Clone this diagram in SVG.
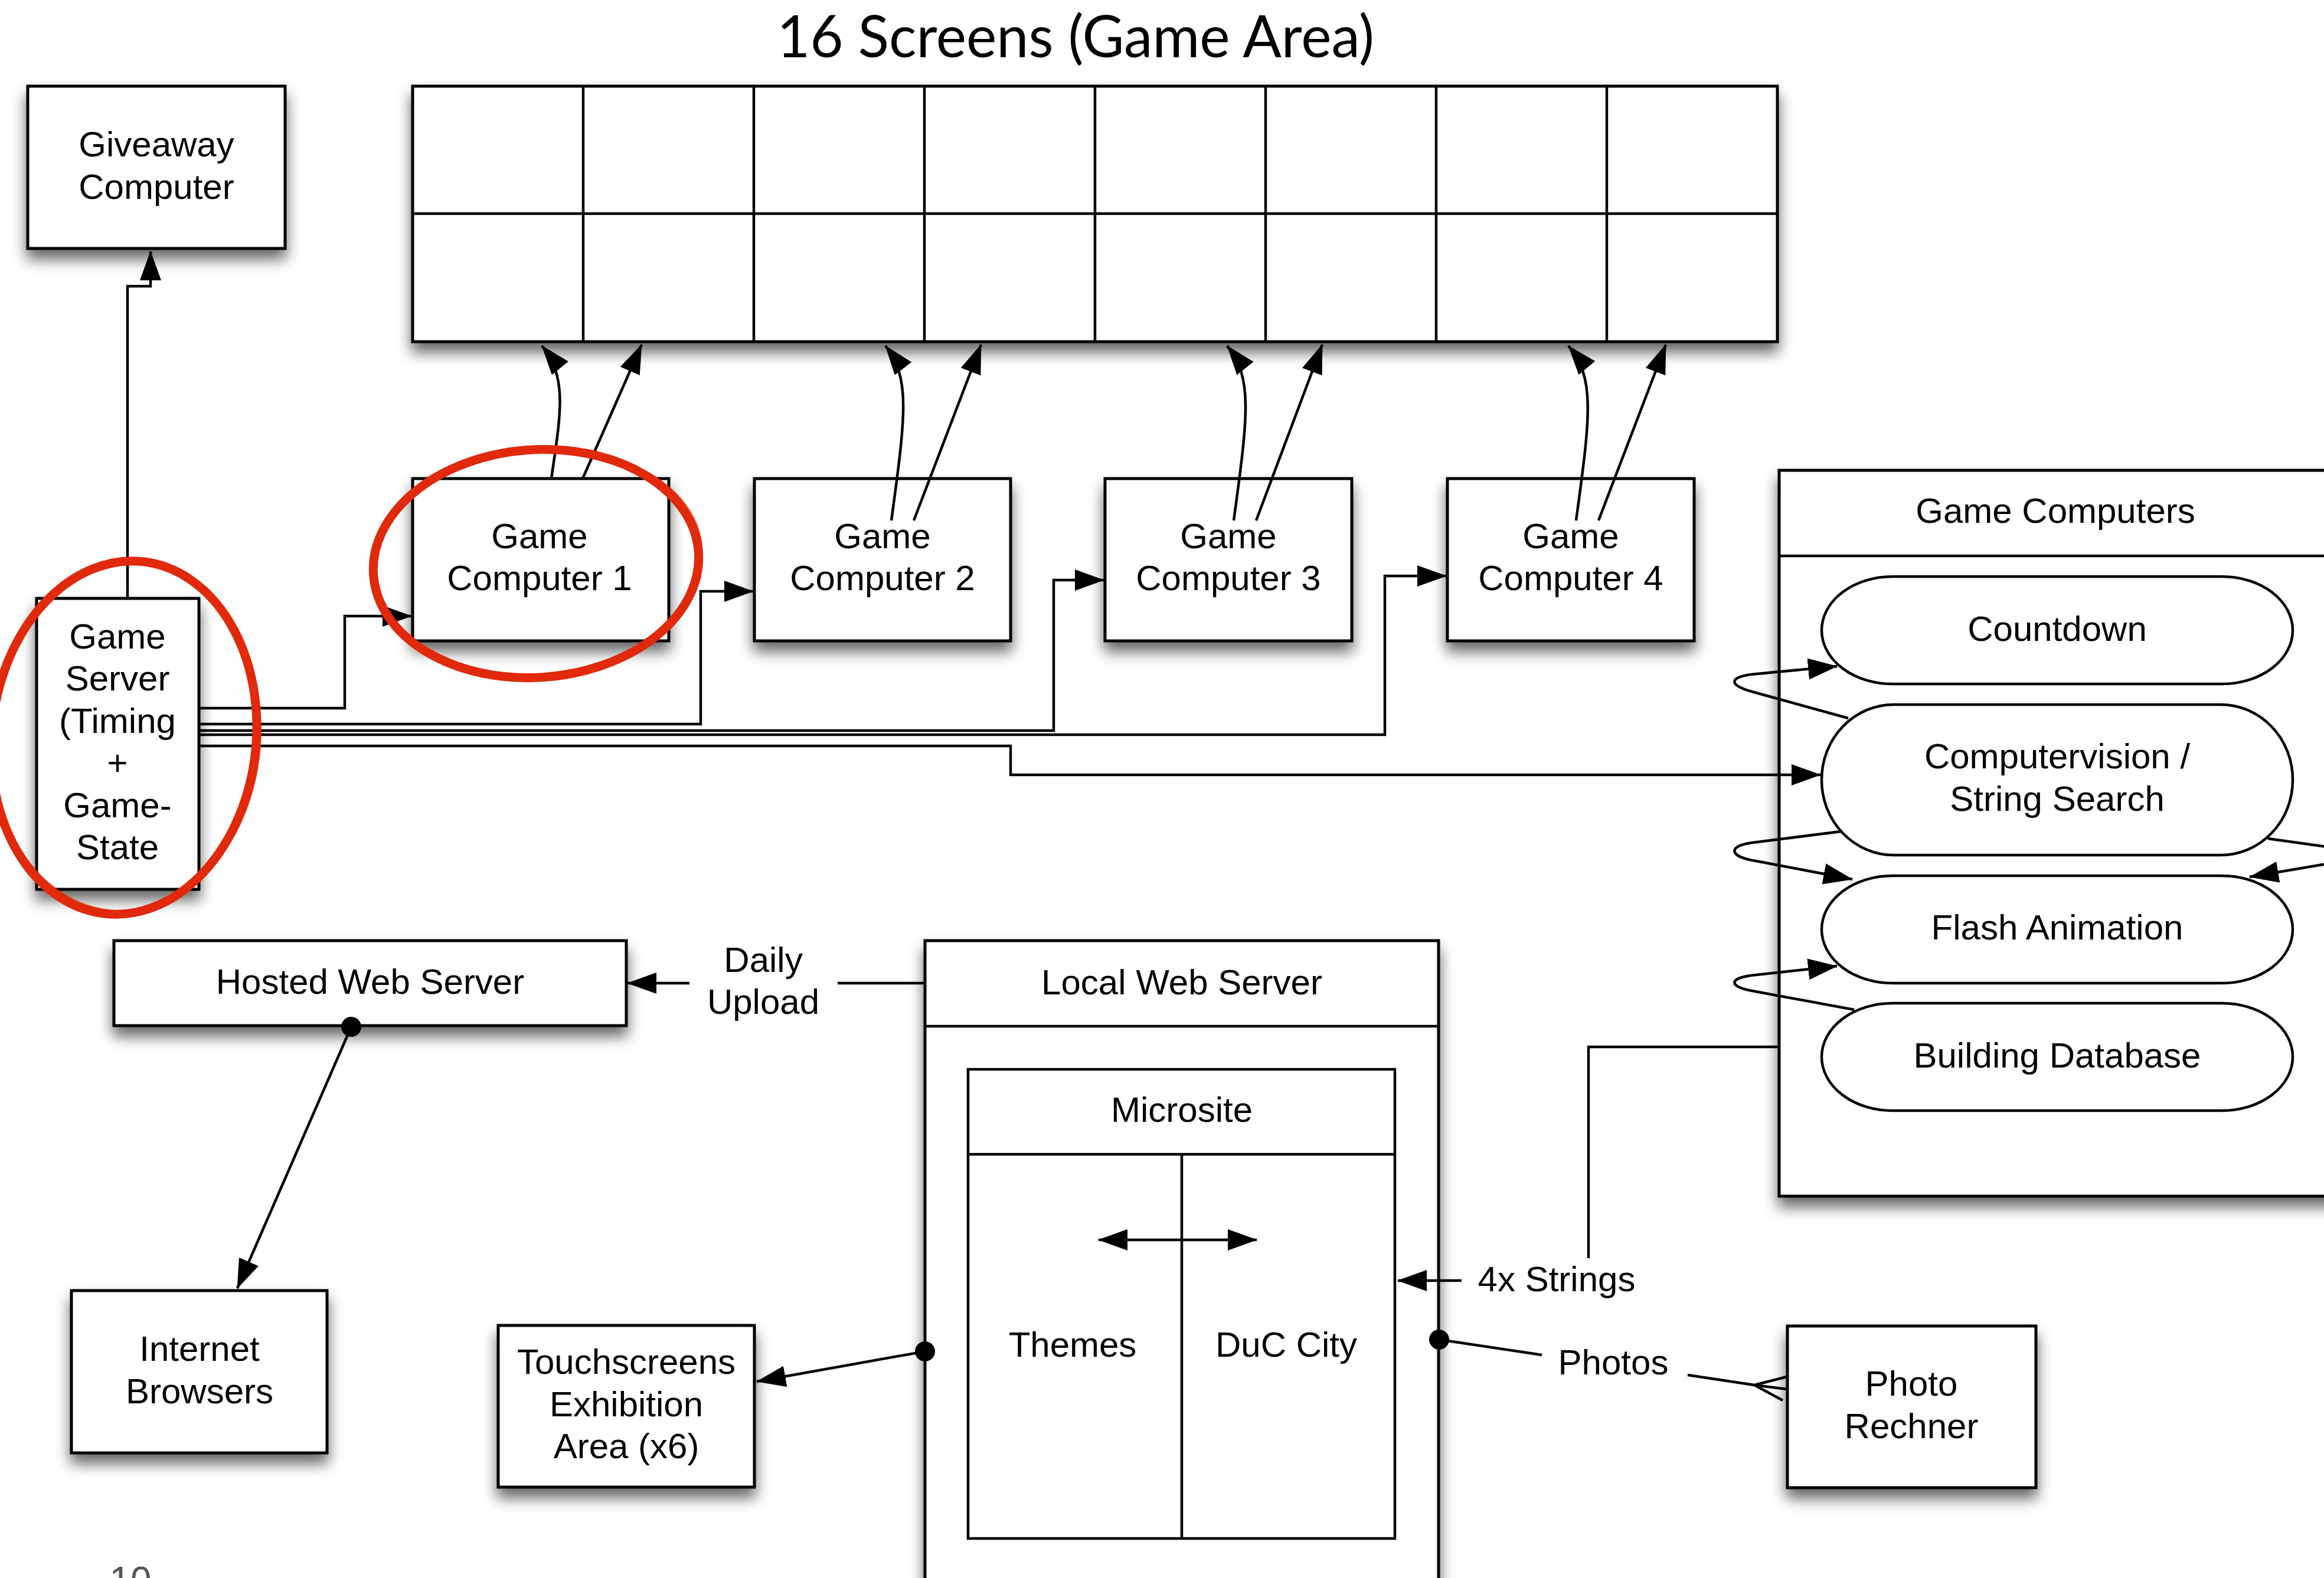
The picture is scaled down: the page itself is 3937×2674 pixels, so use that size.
<svg xmlns="http://www.w3.org/2000/svg" width="3937" height="2674" viewBox="0 0 3937 2674">
<style>
.box{fill:#fff;stroke:#000;stroke-width:5}
.nb{fill:#fff;stroke:#000;stroke-width:4.5}
.ln{fill:none;stroke:#000;stroke-width:4.5}
.arr{marker-end:url(#ah)}
.t{font-family:"Liberation Sans",Arial,Helvetica,sans-serif;font-size:60px;text-anchor:middle;fill:#000}
.red{fill:none;stroke:#e1290b;stroke-linecap:round}
</style>
<defs>
<filter id="sh" x="-20%" y="-20%" width="140%" height="150%">
<feDropShadow dx="0" dy="16" stdDeviation="12" flood-color="#000" flood-opacity="0.6"/>
</filter>
<marker id="ah" markerUnits="userSpaceOnUse" markerWidth="52" markerHeight="38" refX="49" refY="18" orient="auto"><path d="M0,0 L50,18 L0,36 z" fill="#000"/></marker>
<marker id="ah2" markerUnits="userSpaceOnUse" markerWidth="52" markerHeight="38" refX="49" refY="18" orient="auto-start-reverse"><path d="M0,0 L50,18 L0,36 z" fill="#000"/></marker>
<marker id="dot" markerUnits="userSpaceOnUse" markerWidth="40" markerHeight="40" refX="20" refY="20" orient="auto"><circle cx="20" cy="20" r="17" fill="#000"/></marker>
</defs>
<rect width="3937" height="2674" fill="#fff"/>

<text x="1822" y="97" style="font-family:Lato,'Open Sans',sans-serif;font-size:98px;text-anchor:middle" textLength="1012" lengthAdjust="spacingAndGlyphs">16 Screens (Game Area)</text>

<g id="screens">
<rect class="box" x="699" y="146" width="2312" height="433" filter="url(#sh)"/>
<path class="ln" d="M699,362H3011M988,146V579M1277,146V579M1566,146V579M1855,146V579M2144,146V579M2433,146V579M2722,146V579"/>
</g>

<g id="giveaway">
<rect class="box" x="47" y="146" width="436" height="275" filter="url(#sh)"/>
<text class="t" x="265" y="265">Giveaway</text>
<text class="t" x="265" y="337">Computer</text>
</g>

<g id="game-server">
<rect class="box" x="62" y="1014" width="275" height="493" filter="url(#sh)"/>
<text class="t" x="199" y="1099">Game</text>
<text class="t" x="199" y="1170">Server</text>
<text class="t" x="199" y="1242">(Timing</text>
<text class="t" x="199" y="1313">+</text>
<text class="t" x="199" y="1385">Game-</text>
<text class="t" x="199" y="1456">State</text>
</g>

<g id="gc1">
<rect class="box" x="699" y="811" width="434" height="275" filter="url(#sh)"/>
<text class="t" x="914" y="929">Game</text>
<text class="t" x="914" y="1000">Computer 1</text>
</g>
<g id="gc2">
<rect class="box" x="1278" y="811" width="434" height="275" filter="url(#sh)"/>
<text class="t" x="1495" y="929">Game</text>
<text class="t" x="1495" y="1000">Computer 2</text>
</g>
<g id="gc3">
<rect class="box" x="1872" y="811" width="418" height="275" filter="url(#sh)"/>
<text class="t" x="2081" y="929">Game</text>
<text class="t" x="2081" y="1000">Computer 3</text>
</g>
<g id="gc4">
<rect class="box" x="2452" y="811" width="418" height="275" filter="url(#sh)"/>
<text class="t" x="2661" y="929">Game</text>
<text class="t" x="2661" y="1000">Computer 4</text>
</g>

<g id="game-computers">
<rect class="box" x="3014" y="797" width="960" height="1230" filter="url(#sh)"/>
<path class="ln" d="M3014,942H3937"/>
<text class="t" x="3482" y="886">Game Computers</text>
</g>
<g id="countdown">
<rect class="nb" x="3086" y="977" width="798" height="182" rx="120" ry="91"/>
<text class="t" x="3485" y="1086">Countdown</text>
</g>
<g id="computervision">
<rect class="nb" x="3086" y="1194" width="798" height="255" rx="122" ry="127"/>
<text class="t" x="3485" y="1302">Computervision /</text>
<text class="t" x="3485" y="1374">String Search</text>
</g>
<g id="flash">
<rect class="nb" x="3086" y="1484" width="798" height="182" rx="120" ry="91"/>
<text class="t" x="3485" y="1592">Flash Animation</text>
</g>
<g id="building-db">
<rect class="nb" x="3086" y="1700" width="798" height="182" rx="120" ry="91"/>
<text class="t" x="3485" y="1809">Building Database</text>
</g>

<g id="hosted-web-server">
<rect class="box" x="193" y="1594" width="868" height="144" filter="url(#sh)"/>
<text class="t" x="627" y="1684">Hosted Web Server</text>
</g>
<g id="internet-browsers">
<rect class="box" x="121" y="2187" width="433" height="275" filter="url(#sh)"/>
<text class="t" x="338" y="2306">Internet</text>
<text class="t" x="338" y="2378">Browsers</text>
</g>
<g id="touchscreens">
<rect class="box" x="844" y="2246" width="434" height="274" filter="url(#sh)"/>
<text class="t" x="1061" y="2328">Touchscreens</text>
<text class="t" x="1061" y="2400">Exhibition</text>
<text class="t" x="1061" y="2471">Area (x6)</text>
</g>
<g id="local-web-server">
<rect class="box" x="1567" y="1594" width="870" height="1120" filter="url(#sh)"/>
<path class="ln" d="M1567,1739H2437"/>
<text class="t" x="2002" y="1685">Local Web Server</text>
</g>
<g id="microsite">
<rect class="nb" x="1640" y="1812" width="723" height="795"/>
<path class="ln" d="M1640,1956H2363M2002,1956V2607"/>
<text class="t" x="2002" y="1901">Microsite</text>
<text class="t" x="1817" y="2299">Themes</text>
<text class="t" x="2179" y="2299">DuC City</text>
</g>
<g id="photo-rechner">
<rect class="box" x="3028" y="2247" width="421" height="274" filter="url(#sh)"/>
<text class="t" x="3238" y="2365">Photo</text>
<text class="t" x="3238" y="2437">Rechner</text>
</g>

<g id="connectors">
<path class="ln arr" d="M216,1014V485H255V426"/>
<path class="ln arr" d="M337,1200H584V1044H697"/>
<path class="ln arr" d="M337,1227H1187V1002H1276"/>
<path class="ln arr" d="M337,1238H1785V983H1870"/>
<path class="ln arr" d="M337,1245H2346V976H2450"/>
<path class="ln arr" d="M337,1264H1712V1313H3084"/>
<path class="ln arr" d="M934,811C950,700 962,640 918,586"/>
<path class="ln arr" d="M987,811L1087,584"/>
<path class="ln arr" d="M1510,882C1535,700 1542,640 1500,586"/>
<path class="ln arr" d="M1548,882L1662,584"/>
<path class="ln arr" d="M2090,882C2115,700 2122,640 2079,586"/>
<path class="ln arr" d="M2128,882L2240,584"/>
<path class="ln arr" d="M2670,882C2695,700 2702,640 2657,586"/>
<path class="ln arr" d="M2708,882L2822,584"/>
<path class="ln arr" d="M3131,1217L2968,1172C2925,1160 2930,1146 2975,1142L3112,1129"/>
<path class="ln arr" d="M3118,1409L2968,1428C2925,1434 2930,1452 2975,1459L3138,1490"/>
<path class="ln arr" d="M3141,1711L2968,1679C2925,1671 2930,1656 2975,1652L3112,1637"/>
<path class="ln arr" d="M3842,1421L3935,1434C3985,1442 3980,1458 3935,1465L3811,1486"/>
<path class="ln arr" d="M595,1740L402,2183" style="marker-start:url(#dot)"/>
<path class="ln" d="M1567,1666H1419"/>
<path class="ln arr" d="M1168,1666H1063"/>
<path class="ln arr" d="M1567,2290L1282,2341" style="marker-start:url(#dot)"/>
<path class="ln" d="M3014,1774H2691V2132"/>
<path class="ln arr" d="M2476,2170H2368"/>
<path class="ln" d="M2438,2270L2612,2296" style="marker-start:url(#dot)"/>
<path class="ln" d="M2859,2330L2972,2347L3027,2354M3027,2333L2972,2347L3020,2373"/>
<path class="ln" d="M1861,2101H2129" style="marker-start:url(#ah2);marker-end:url(#ah2)"/>
<text class="t" x="1293" y="1647">Daily</text>
<text class="t" x="1293" y="1718">Upload</text>
<text class="t" x="2637" y="2188">4x Strings</text>
<text class="t" x="2733" y="2329">Photos</text>
</g>

<g id="annotations">
<ellipse class="red" cx="908" cy="955" rx="276" ry="193" stroke-width="15" transform="rotate(-4 908 955)"/>
<ellipse class="red" cx="910" cy="953" rx="280" ry="190" stroke-width="3" opacity="0.7" transform="rotate(-6 910 953)"/>
<ellipse class="red" cx="210" cy="1250" rx="224" ry="300" stroke-width="15" transform="rotate(6 210 1250)"/>
<ellipse class="red" cx="213" cy="1248" rx="228" ry="296" stroke-width="3" opacity="0.7" transform="rotate(4 213 1248)"/>
</g>

<text x="221" y="2700" style="font-family:'Liberation Sans',Arial,sans-serif;font-size:64px;text-anchor:middle;fill:#555">10</text>
</svg>
